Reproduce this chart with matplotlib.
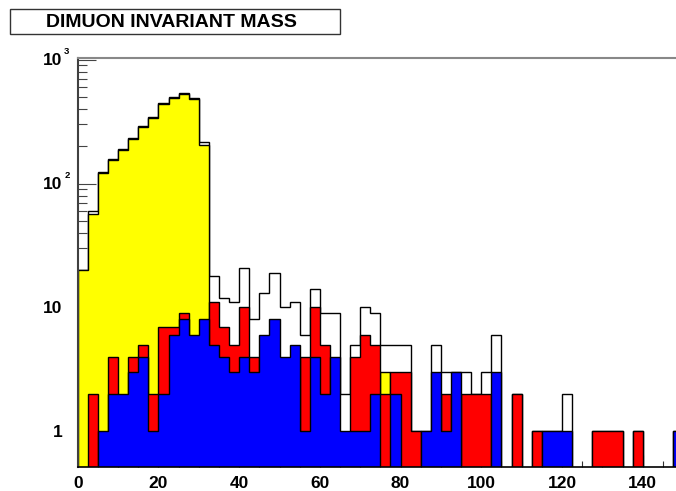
import matplotlib
matplotlib.use('Agg')
import matplotlib.pyplot as plt
import matplotlib.transforms as mtransforms
from matplotlib.patches import Rectangle
from matplotlib.ticker import FixedLocator, LogLocator, NullFormatter
import numpy as np

# ROOT-like colours
root_yellow = '#ffff00'
root_red = '#ff0000'
root_blue = '#0000ff'

# histogram binning: 60 bins of 2.5 GeV from 0 to 150
bin_edges = np.linspace(0, 150, 61)

# bin contents
all_pairs = [20, 60, 124, 158, 190, 233, 292, 345, 450, 498, 542, 488, 216,
             18, 12, 11, 21, 8, 13, 19, 10, 11, 6, 14, 9, 9, 2, 5, 10, 9,
             5, 5, 5, 1, 1, 5, 3, 3, 3, 2, 3, 6,
             0, 2, 0, 1, 1, 1, 2, 0, 0, 1, 1, 1, 0, 1, 0, 0, 0, 1]
yellow_pairs = [20, 57, 121, 154, 186, 228, 286, 338, 442, 490, 532, 481, 204,
                0, 0, 0, 0, 0, 0, 0, 0, 0, 0, 0, 0, 0, 0, 0, 0, 0,
                3, 0, 0, 0, 0, 0, 0, 0, 0, 0, 0, 0,
                0, 0, 0, 0, 0, 0, 0, 0, 0, 0, 0, 0, 0, 0, 0, 0, 0, 0]
red_pairs = [0, 2, 0, 4, 0, 4, 5, 2, 7, 7, 9, 0, 0,
             11, 7, 5, 10, 4, 0, 0, 0, 0, 4, 10, 5, 0, 0, 4, 6, 5,
             2, 3, 3, 1, 0, 0, 2, 0, 2, 2, 2, 0,
             0, 2, 0, 1, 0, 0, 0, 0, 0, 1, 1, 1, 0, 1, 0, 0, 0, 0]
blue_pairs = [0, 0, 1, 2, 2, 3, 4, 1, 2, 6, 8, 6, 8,
              5, 4, 3, 4, 3, 6, 8, 4, 5, 1, 4, 2, 4, 1, 1, 1, 2,
              0, 2, 0, 0, 1, 3, 1, 3, 0, 0, 0, 3,
              0, 0, 0, 0, 1, 1, 1, 0, 0, 0, 0, 0, 0, 0, 0, 0, 0, 1]

xtick_values = [0, 20, 40, 60, 80, 100, 120, 140]
xtick_labels = ['0', '20', '40', '60', '80', '100', '120', '140']

plt.rcParams['font.family'] = ['Liberation Sans', 'DejaVu Sans']

# figure of 676x491 pixels, frame placed like the ROOT canvas (right edge is cut off)
fig = plt.figure(figsize=(6.76, 4.91), dpi=100)
ax = fig.add_axes([77.7 / 676, (491 - 467.3) / 491, (683.1 - 77.7) / 676, (467.3 - 58) / 491])
ax.set_yscale('log')
ax.set_axisbelow(True)

# draw the histograms on top of each other
floor = 1e-2
for values, color in [(all_pairs, 'white'), (yellow_pairs, root_yellow),
                      (red_pairs, root_red), (blue_pairs, root_blue)]:
    v = np.array(values, dtype=float)
    v[v <= 0] = floor
    ax.stairs(v, bin_edges, baseline=floor, fill=True, facecolor=color,
              edgecolor='black', linewidth=1.0)

ax.set_xlim(0, 150)
ax.set_ylim(0.513, 1030)

# x axis ticks and labels
ax.set_xticks(xtick_values)
ax.set_xticks(np.arange(0, 151, 5), minor=True)
ax.set_xticklabels(xtick_labels, fontsize=12.5, fontweight='bold')
ax.tick_params(axis='x', which='major', direction='in', length=8.9, width=0.8,
               color='#333333', pad=6.5)
ax.tick_params(axis='x', which='minor', direction='in', length=4.4, width=0.8,
               color='#333333')

# y axis ticks, labels are drawn by hand to get the ROOT look
ax.yaxis.set_major_locator(FixedLocator([1, 10, 100, 1000]))
ax.yaxis.set_minor_locator(LogLocator(base=10, subs=np.arange(2, 10)))
ax.yaxis.set_major_formatter(NullFormatter())
ax.yaxis.set_minor_formatter(NullFormatter())
ax.tick_params(axis='y', which='major', direction='in', length=13, width=0.8, color='#444444')
ax.tick_params(axis='y', which='minor', direction='in', length=6.5, width=0.8, color='#444444')

label_trans = mtransforms.offset_copy(ax.get_yaxis_transform(), fig=fig, x=-15.3, y=-1.0, units='dots')
sup_trans = mtransforms.offset_copy(ax.get_yaxis_transform(), fig=fig, x=-13.5, y=8.3, units='dots')
ax.text(0, 1, '1', transform=label_trans, ha='right', va='center', fontsize=12.5, fontweight='bold')
ax.text(0, 10, '10', transform=label_trans, ha='right', va='center', fontsize=12.5, fontweight='bold')
for value, power in [(100, '2'), (1000, '3')]:
    ax.text(0, value, '10', transform=label_trans, ha='right', va='center', fontsize=12.5, fontweight='bold')
    ax.text(0, value, power, transform=sup_trans, ha='left', va='center', fontsize=6.8, fontweight='bold')

# frame
ax.spines['right'].set_visible(False)
ax.spines['left'].set_color('#404040')
ax.spines['left'].set_linewidth(1.5)
ax.spines['top'].set_color('#888888')
ax.spines['top'].set_linewidth(1.5)
ax.spines['bottom'].set_color('black')
ax.spines['bottom'].set_linewidth(1.2)

# title box
fig.add_artist(Rectangle((10 / 676, (491 - 34.3) / 491), 330 / 676, 25 / 491,
                         transform=fig.transFigure, facecolor='white',
                         edgecolor='#333333', linewidth=1.0))
fig.text(171 / 676, (491 - 27.3) / 491, 'DIMUON INVARIANT MASS', ha='center', va='baseline',
         fontsize=14, fontweight='bold')

fig.savefig('out.png', dpi=100)
